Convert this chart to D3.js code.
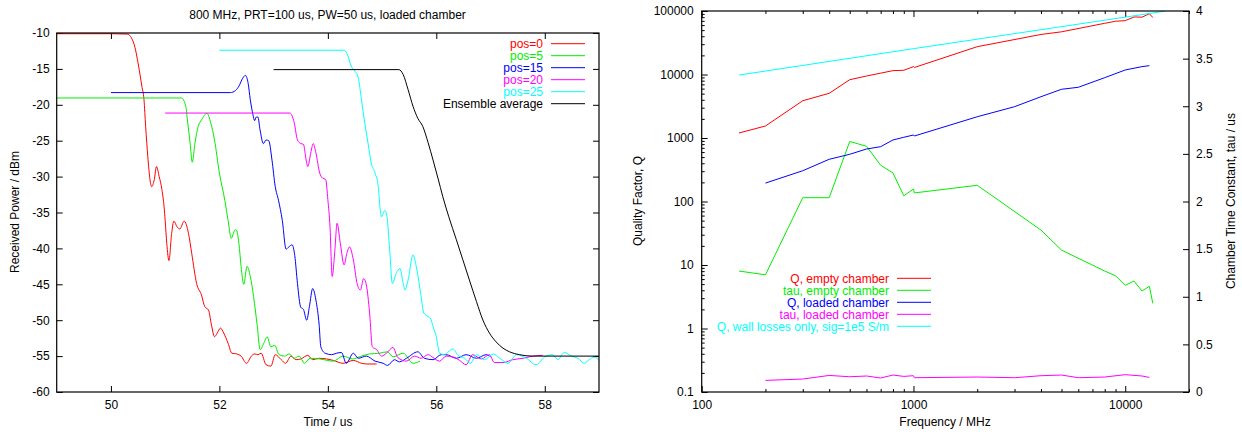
<!DOCTYPE html>
<html lang="en">
<head>
<meta charset="UTF-8"/>
<title>Chamber decay and Q factor</title>
<script src="https://d3js.org/d3.v7.min.js"></script>
<style>
  body { margin: 0; background: #fff; }
  svg text { font-family: "Liberation Sans", Arial, sans-serif; font-size: 12px; fill: #000; }
</style>
</head>
<body>
<div id="chart"></div>
<script>
// ---- left panel: received power vs time, [time us, power dBm]
var pos0 = [[49.0,-10.1],[50.0,-10.1],[50.3,-10.15],[50.42,-11.4],[50.51,-14.6],[50.57,-17.4],[50.61,-19.3],[50.64,-23],[50.68,-27.2],[50.72,-30.4],[50.75,-31.4],[50.8,-30.4],[50.84,-28.6],[50.89,-30],[50.94,-31.8],[50.98,-34.2],[51.0,-36.1],[51.03,-39.3],[51.07,-41.7],[51.12,-37.9],[51.16,-36.2],[51.22,-37],[51.27,-37.3],[51.35,-36.2],[51.43,-37.9],[51.49,-40.7],[51.58,-44.9],[51.67,-46.5],[51.73,-48.1],[51.8,-48.6],[51.85,-50.5],[51.91,-52.3],[51.96,-51.8],[52.02,-51.1],[52.08,-51.8],[52.16,-53.2],[52.23,-54.6],[52.32,-54.7],[52.4,-55],[52.5,-56],[52.59,-55],[52.65,-54.7],[52.71,-54.8],[52.77,-54.6],[52.86,-56.2],[52.95,-56.4],[53.03,-54.8],[53.14,-55.5],[53.22,-56],[53.32,-55],[53.41,-55.5],[53.5,-55.4],[53.63,-54.9],[53.72,-55.5],[53.84,-55.3],[53.98,-55.4],[54.1,-55.6],[54.28,-56],[54.47,-55.6],[54.62,-56],[54.72,-56.1],[54.9,-56.1]];
var pos5 = [[49,-19.05],[51.3,-19.05],[51.38,-20.2],[51.41,-22.1],[51.46,-25.3],[51.5,-28],[51.55,-25.3],[51.61,-23],[51.67,-22.1],[51.77,-21.2],[51.84,-22.5],[51.91,-24.9],[52.0,-29.5],[52.1,-33.3],[52.16,-36.1],[52.22,-38.6],[52.28,-37.5],[52.31,-37.4],[52.36,-39.3],[52.4,-42.5],[52.45,-45],[52.51,-42.5],[52.57,-43.9],[52.63,-46.7],[52.7,-50.9],[52.75,-54.1],[52.82,-53.2],[52.88,-52.3],[52.95,-53.7],[53.02,-53.5],[53.1,-54.8],[53.2,-55],[53.29,-54.7],[53.38,-55.3],[53.47,-55],[53.57,-56],[53.67,-55.3],[53.85,-55.4],[54.1,-55.7],[54.28,-55],[54.45,-55.4],[54.62,-55],[54.77,-54.7],[54.95,-54.6],[55.1,-54.4],[55.2,-55.1],[55.39,-54.6],[55.57,-56],[55.7,-55.7]];
var pos15 = [[50,-18.3],[52.2,-18.3],[52.3,-18.0],[52.36,-17.4],[52.43,-16.3],[52.48,-15.9],[52.53,-17],[52.57,-19.3],[52.62,-21.4],[52.65,-22.2],[52.68,-21.7],[52.71,-21.7],[52.75,-23.5],[52.81,-25.4],[52.86,-24.9],[52.91,-25],[52.97,-27.7],[53.03,-31.4],[53.09,-33.3],[53.16,-36.1],[53.23,-40.1],[53.28,-39.8],[53.34,-39.5],[53.39,-41],[53.44,-44.9],[53.5,-48.2],[53.55,-48.5],[53.61,-50],[53.66,-48.1],[53.72,-45.6],[53.78,-47.2],[53.84,-50.7],[53.87,-53.7],[53.95,-54.6],[54.07,-54.8],[54.16,-54.6],[54.25,-54.5],[54.34,-56],[54.47,-54.6],[54.56,-55.3],[54.71,-55],[54.87,-55.7],[55.02,-56],[55.1,-56.3],[55.23,-55.5],[55.32,-55.8],[55.45,-55.3],[55.66,-54.4],[55.78,-55.3],[55.94,-55.5],[56.09,-54.8],[56.18,-54.8],[56.37,-55.3],[56.55,-54.8],[56.74,-55.3],[56.92,-54.8],[57.0,-55.1]];
var pos20 = [[51,-21.15],[53.3,-21.15],[53.38,-22.5],[53.44,-24.9],[53.5,-25.4],[53.55,-25.5],[53.6,-27.7],[53.63,-28.6],[53.69,-26.5],[53.73,-25.4],[53.78,-26.7],[53.85,-29.5],[53.9,-30.2],[53.96,-30.4],[54.0,-33.2],[54.04,-37],[54.08,-43.9],[54.13,-40.2],[54.17,-36.5],[54.23,-39.3],[54.3,-42.3],[54.35,-40.7],[54.4,-39.8],[54.47,-41.6],[54.54,-44.9],[54.6,-45.8],[54.66,-44.2],[54.71,-45.1],[54.77,-49],[54.82,-53.7],[54.9,-54.1],[54.99,-55],[55.08,-54.6],[55.2,-53.8],[55.29,-55.2],[55.45,-55.7],[55.6,-55],[55.72,-55.3],[55.85,-54.8],[55.94,-55.2],[56.06,-55.7],[56.18,-55],[56.3,-55.1],[56.43,-55.6],[56.55,-56.2],[56.67,-54.8],[56.83,-55.4],[56.98,-54.8],[57.07,-55.9],[57.23,-55.9],[57.41,-55.5],[57.6,-55.3],[57.78,-55],[57.96,-54.9]];
var pos25 = [[52,-12.4],[54.3,-12.4],[54.37,-13.2],[54.43,-14.6],[54.5,-15.3],[54.56,-16.2],[54.62,-19.3],[54.68,-22.5],[54.74,-25.3],[54.8,-28.1],[54.87,-29.5],[54.93,-31.4],[54.96,-34.2],[54.99,-35.6],[55.05,-34.7],[55.09,-35.6],[55.14,-40.2],[55.19,-44.9],[55.26,-43.5],[55.33,-42.8],[55.39,-44.9],[55.42,-45.8],[55.48,-44.4],[55.57,-40.9],[55.63,-42.5],[55.71,-46.2],[55.77,-49],[55.85,-49.5],[55.89,-49.7],[55.94,-50.9],[56.0,-52.3],[56.06,-54.6],[56.15,-54.8],[56.22,-54.4],[56.31,-54],[56.4,-54.9],[56.52,-55.3],[56.63,-56],[56.74,-54.8],[56.89,-55.5],[57.05,-54.7],[57.17,-55.3],[57.32,-56],[57.48,-54.8],[57.66,-55.3],[57.84,-56.2],[58.0,-55.1],[58.15,-54.8],[58.24,-55.5],[58.36,-54.5],[58.49,-55],[58.61,-55.3],[58.73,-56],[58.82,-55.5],[58.91,-55.1],[59.0,-55.6]];
var ensemble = [[53,-15.1],[55.31,-15.1],[55.39,-15.8],[55.48,-17.9],[55.57,-20.2],[55.66,-21.9],[55.75,-23],[55.85,-25.3],[55.94,-27.7],[56.03,-30.2],[56.12,-32.8],[56.23,-35.6],[56.37,-38.8],[56.49,-41.6],[56.61,-44.4],[56.74,-47.4],[56.86,-50],[56.98,-51.8],[57.1,-53],[57.23,-53.9],[57.35,-54.4],[57.53,-54.8],[57.78,-55],[59,-55]];

var leftNames = ["pos=0", "pos=5", "pos=15", "pos=20", "pos=25", "Ensemble average"];
var leftColors = ["#ff0000", "#00ee00", "#0000ff", "#ff00ff", "#00ffff", "#000000"];
var timeTicks = [50, 52, 54, 56, 58];
var powerTicks = [-60, -55, -50, -45, -40, -35, -30, -25, -20, -15, -10];

// ---- right panel: Q and tau vs frequency (MHz)
var fEmpty = [150,200,300,400,500,600,700,800,900,1000,1010,2000,4000,5000,8000,9000,10000,11000,12000,13000,13500];
var qEmpty = [1200,1545,3860,5060,8280,9460,10500,11500,11650,13300,12900,27400,42700,47000,64000,69000,70500,80500,80000,90500,79000];
var tauEmpty = [1.27,1.23,2.04,2.04,2.63,2.58,2.38,2.30,2.06,2.13,2.09,2.17,1.70,1.49,1.27,1.22,1.12,1.165,1.06,1.11,0.93];
var fLoaded = [200,300,400,500,600,700,800,900,1000,1010,2000,3000,4000,5000,6000,8000,10000,12000,13000];
var qLoaded = [195,305,462,554,671,730,931,1026,1115,1075,2160,3110,4470,5850,6290,8910,11780,13300,13770];
var tauLoaded = [0.122,0.136,0.174,0.16,0.168,0.147,0.178,0.164,0.171,0.15,0.157,0.15,0.171,0.178,0.15,0.157,0.182,0.168,0.153];
var fWall = [150,1000,10000,15500];
var qWall = [9800,25500,80000,100000];

var rightNames = ["Q, empty chamber", "tau, empty chamber", "Q, loaded chamber", "tau, loaded chamber", "Q, wall losses only, sig=1e5 S/m"];
var rightColors = ["#ff0000", "#00ee00", "#0000ff", "#ff00ff", "#00ffff"];
var freqTicks = [100, 1000, 10000];
var qTicks = [0.1, 1, 10, 100, 1000, 10000, 100000];
var tauTicks = [0, 0.5, 1, 1.5, 2, 2.5, 3, 3.5, 4];

var w = 1242, h = 432;
var svg = d3.select("#chart").append("svg").attr("width", w).attr("height", h);

// helper: draw inward ticks on one side of a frame
function ticks(g, axis) {
    g.call(axis);
    g.select(".domain").remove();
    g.selectAll("line").attr("stroke", "#000");
}

//Left panel
var L = {x0: 56.7, x1: 599, y0: 33, y1: 392};
var xL = d3.scaleLinear().domain([49, 59]).range([L.x0, L.x1]);
var yL = d3.scaleLinear().domain([-60, -10]).range([L.y1, L.y0]);

svg.append("g").attr("transform", "translate(0," + L.y1 + ")")
    .call(ticks, d3.axisBottom(xL).tickValues(timeTicks).tickSizeInner(-6).tickSizeOuter(0).tickPadding(8).tickFormat(String));
svg.append("g").attr("transform", "translate(0," + L.y0 + ")")
    .call(ticks, d3.axisTop(xL).tickValues(timeTicks).tickSizeInner(-6).tickSizeOuter(0).tickFormat(""));
svg.append("g").attr("transform", "translate(" + L.x0 + ",0)")
    .call(ticks, d3.axisLeft(yL).tickValues(powerTicks).tickSizeInner(-6).tickSizeOuter(0).tickPadding(7).tickFormat(String));
svg.append("g").attr("transform", "translate(" + L.x1 + ",0)")
    .call(ticks, d3.axisRight(yL).tickValues(powerTicks).tickSizeInner(-6).tickSizeOuter(0).tickFormat(""));

var lineL = d3.line().x(function(d){ return xL(d[0]); }).y(function(d){ return yL(d[1]); }).curve(d3.curveMonotoneX);
[pos0, pos5, pos15, pos20, pos25, ensemble].forEach(function(s, i){
    svg.append("path").datum(s).attr("d", lineL)
        .attr("fill", "none").attr("stroke", leftColors[i]).attr("stroke-width", 1);
});

svg.append("rect").attr("x", L.x0).attr("y", L.y0).attr("width", L.x1 - L.x0).attr("height", L.y1 - L.y0)
    .attr("fill", "none").attr("stroke", "#000").attr("stroke-width", 1.2);

leftNames.forEach(function(n, i){
    var y = 43.7 + i * 12;
    svg.append("text").attr("x", 543).attr("y", y).attr("dy", "0.35em").attr("text-anchor", "end")
        .style("fill", leftColors[i]).text(n);
    svg.append("line").attr("x1", 551).attr("x2", 585).attr("y1", y).attr("y2", y)
        .attr("stroke", leftColors[i]).attr("stroke-width", 1);
});

svg.append("text").attr("x", 327.5).attr("y", 15).attr("dy", "0.35em").attr("text-anchor", "middle")
    .text("800 MHz, PRT=100 us, PW=50 us, loaded chamber");
svg.append("text").attr("x", 328).attr("y", 422).attr("dy", "0.35em").attr("text-anchor", "middle").text("Time / us");
svg.append("text").attr("transform", "translate(15,212) rotate(-90)").attr("dy", "0.35em")
    .attr("text-anchor", "middle").text("Received Power / dBm");

//Right panel
var R = {x0: 701.7, x1: 1189, y0: 11, y1: 392};
var xR = d3.scaleLog().domain([100, 20000]).range([R.x0, R.x1]);
var yR = d3.scaleLog().domain([0.1, 100000]).range([R.y1, R.y0]);
var y2 = d3.scaleLinear().domain([0, 4]).range([R.y1, R.y0]);

var minorF = [];
[100, 1000, 10000].forEach(function(d){ for (var k = 2; k <= 9; k++) if (d * k <= 20000) minorF.push(d * k); });
var minorQ = [];
[0.1, 1, 10, 100, 1000, 10000].forEach(function(d){ for (var k = 2; k <= 9; k++) minorQ.push(d * k); });

svg.append("g").attr("transform", "translate(0," + R.y1 + ")")
    .call(ticks, d3.axisBottom(xR).tickValues(freqTicks).tickSizeInner(-6).tickSizeOuter(0).tickPadding(8).tickFormat(String));
svg.append("g").attr("transform", "translate(0," + R.y1 + ")")
    .call(ticks, d3.axisBottom(xR).tickValues(minorF).tickSizeInner(-3).tickSizeOuter(0).tickFormat(""));
svg.append("g").attr("transform", "translate(0," + R.y0 + ")")
    .call(ticks, d3.axisTop(xR).tickValues(freqTicks).tickSizeInner(-6).tickSizeOuter(0).tickFormat(""));
svg.append("g").attr("transform", "translate(0," + R.y0 + ")")
    .call(ticks, d3.axisTop(xR).tickValues(minorF).tickSizeInner(-3).tickSizeOuter(0).tickFormat(""));
svg.append("g").attr("transform", "translate(" + R.x0 + ",0)")
    .call(ticks, d3.axisLeft(yR).tickValues(qTicks).tickSizeInner(-6).tickSizeOuter(0).tickPadding(8).tickFormat(String));
svg.append("g").attr("transform", "translate(" + R.x0 + ",0)")
    .call(ticks, d3.axisLeft(yR).tickValues(minorQ).tickSizeInner(-3).tickSizeOuter(0).tickFormat(""));
svg.append("g").attr("transform", "translate(" + R.x1 + ",0)")
    .call(ticks, d3.axisRight(y2).tickValues(tauTicks).tickSizeInner(-6).tickSizeOuter(0).tickPadding(7).tickFormat(String));

var lineQ = d3.line().x(function(d){ return xR(d[0]); }).y(function(d){ return yR(d[1]); });
var lineT = d3.line().x(function(d){ return xR(d[0]); }).y(function(d){ return y2(d[1]); });
var zip = function(a, b){ return a.map(function(v, i){ return [v, b[i]]; }); };

var rightSeries = [
    {d: zip(fEmpty, qEmpty), line: lineQ},
    {d: zip(fEmpty, tauEmpty), line: lineT},
    {d: zip(fLoaded, qLoaded), line: lineQ},
    {d: zip(fLoaded, tauLoaded), line: lineT},
    {d: zip(fWall, qWall), line: lineQ}
];
svg.append("clipPath").attr("id", "clipR").append("rect")
    .attr("x", R.x0).attr("y", R.y0).attr("width", R.x1 - R.x0).attr("height", R.y1 - R.y0);
rightSeries.forEach(function(s, i){
    svg.append("path").datum(s.d).attr("d", s.line).attr("clip-path", "url(#clipR)")
        .attr("fill", "none").attr("stroke", rightColors[i]).attr("stroke-width", 1);
});

svg.append("rect").attr("x", R.x0).attr("y", R.y0).attr("width", R.x1 - R.x0).attr("height", R.y1 - R.y0)
    .attr("fill", "none").attr("stroke", "#000").attr("stroke-width", 1.2);

rightNames.forEach(function(n, i){
    var y = 278.3 + i * 12;
    svg.append("text").attr("x", 889).attr("y", y).attr("dy", "0.35em").attr("text-anchor", "end")
        .style("fill", rightColors[i]).text(n);
    svg.append("line").attr("x1", 897).attr("x2", 931).attr("y1", y).attr("y2", y)
        .attr("stroke", rightColors[i]).attr("stroke-width", 1);
});

svg.append("text").attr("x", 945).attr("y", 422).attr("dy", "0.35em").attr("text-anchor", "middle").text("Frequency / MHz");
svg.append("text").attr("transform", "translate(638,201) rotate(-90)").attr("dy", "0.35em")
    .attr("text-anchor", "middle").text("Quality Factor, Q");
svg.append("text").attr("transform", "translate(1231,201) rotate(-90)").attr("dy", "0.35em")
    .attr("text-anchor", "middle").text("Chamber Time Constant, tau / us");
</script>
</body>
</html>
